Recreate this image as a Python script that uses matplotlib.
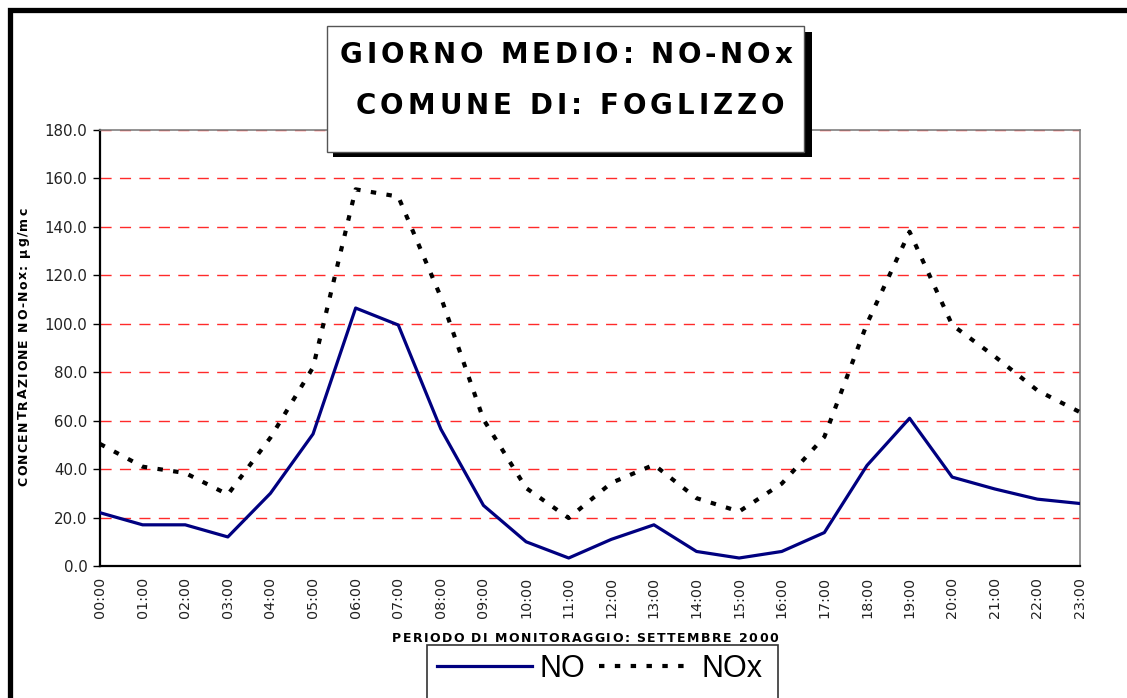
import matplotlib
matplotlib.use("Agg")
import matplotlib.pyplot as plt
from matplotlib.font_manager import FontProperties
from matplotlib.patches import Rectangle

# ---- data ----
hours = ["00:00", "01:00", "02:00", "03:00", "04:00", "05:00", "06:00", "07:00",
         "08:00", "09:00", "10:00", "11:00", "12:00", "13:00", "14:00", "15:00",
         "16:00", "17:00", "18:00", "19:00", "20:00", "21:00", "22:00", "23:00"]
no_values = [22, 17, 17, 12, 30, 54.5, 106.5, 99.5, 56.5, 25, 10, 3.3, 11, 17,
             6, 3.3, 6, 13.8, 41.5, 61, 36.7, 31.8, 27.6, 25.8]
nox_values = [50.4, 41, 38.4, 29.5, 53, 82, 155.5, 152.5, 111, 60.5, 32.2, 19.8,
              34.3, 41.8, 28, 22.5, 34, 53.3, 100, 138, 99.5, 86.5, 72.5, 63.5]
y_ticks = [0, 20, 40, 60, 80, 100, 120, 140, 160, 180]
title_lines = ["GIORNO MEDIO: NO-NOx", "COMUNE DI: FOGLIZZO"]
x_title = "PERIODO DI MONITORAGGIO: SETTEMBRE 2000"
y_title = "CONCENTRAZIONE NO-Nox: µg/mc"
series_names = ["NO", "NOx"]

W, H = 1127, 698
FONT = "Liberation Sans"
BOLDFONT = "DejaVu Sans"
TICKFONT = "DejaVu Sans"
fig = plt.figure(figsize=(W / 100, H / 100), dpi=100)
fig.patch.set_facecolor("white")


def fx(px):
    return px / W


def fy(py):
    return 1 - py / H


ax = fig.add_axes([fx(100), fy(566), fx(1080) - fx(100), fy(130) - fy(566)])
x = list(range(len(hours)))

for v in y_ticks[1:]:
    ax.axhline(v, color="#ff2a2a", lw=1.0, ls=(0, (8, 6)), zorder=1)

ax.plot(x, no_values, color="#000080", lw=2.3, zorder=3, label=series_names[0])
ax.plot(x, nox_values, color="black", lw=3.0, ls=(0, (1.3, 2.5)),
        dash_capstyle="butt", zorder=3, label=series_names[1])

ax.set_xlim(0, len(hours) - 1)
ax.set_ylim(0, 180)
ax.set_yticks(y_ticks)
ax.set_yticklabels([f"{v:.1f}" for v in y_ticks], fontfamily=TICKFONT, fontsize=10.8,
                   color="#222222")
ax.set_xticks(x)
ax.set_xticklabels(hours, rotation=90, fontfamily=TICKFONT, fontsize=10.3,
                   color="#222222")
ax.tick_params(axis="x", length=0, pad=8)
ax.tick_params(axis="y", length=5, width=1, pad=4, direction="out")
for s in ["left", "bottom"]:
    ax.spines[s].set_color("black")
    ax.spines[s].set_linewidth(1.6)
for s in ["top", "right"]:
    ax.spines[s].set_color("#808080")
    ax.spines[s].set_linewidth(1.2)

renderer = fig.canvas.get_renderer()


def advance(c, prop):
    w1, _, _ = renderer.get_text_width_height_descent("H" + c + "H", prop, ismath=False)
    w0, _, _ = renderer.get_text_width_height_descent("HH", prop, ismath=False)
    return w1 - w0


def spaced(s, cx, cy, width, size, weight="bold", rotation=0, z=3, family=BOLDFONT):
    prop = FontProperties(family=family, weight=weight, size=size)
    ws = [advance(c, prop) for c in s]
    track = (width - sum(ws)) / (len(s) - 1)
    pos = -width / 2
    for c, w in zip(s, ws):
        if rotation == 0:
            fig.text(fx(cx + pos), fy(cy), c, fontproperties=prop, ha="left",
                     va="baseline", color="black", zorder=z)
        else:
            fig.text(fx(cx), fy(cy - pos), c, fontproperties=prop, ha="left",
                     va="baseline", rotation=90, rotation_mode="anchor",
                     color="black", zorder=z)
        pos += w + track


# outer frame
fig.add_artist(Rectangle((fx(10), fy(760)), fx(1200), fy(10) - fy(760),
                         transform=fig.transFigure, fill=False, ec="black", lw=3.8,
                         clip_on=False))

# title box with shadow
fig.add_artist(Rectangle((fx(333), fy(157)), fx(812 - 333), fy(32) - fy(157),
                         transform=fig.transFigure, fc="black", ec="none", zorder=5))
fig.add_artist(Rectangle((fx(327), fy(152)), fx(804 - 327), fy(26) - fy(152),
                         transform=fig.transFigure, fc="white", ec="#555555", lw=1,
                         zorder=6))
spaced(title_lines[0], 566, 63, 452, 20, z=7)
spaced(title_lines[1], 570, 114, 429, 20, z=7)

spaced(x_title, 585, 642, 386, 9)
spaced(y_title, 27, 347, 278, 9, rotation=90)

# legend box
fig.add_artist(Rectangle((fx(427), fy(720)), fx(778 - 427), fy(645) - fy(720),
                         transform=fig.transFigure, fc="white", ec="#333333", lw=1.2,
                         clip_on=False))
handles, labels = ax.get_legend_handles_labels()
leg = fig.legend(handles, labels, loc="center left", bbox_to_anchor=(fx(437), fy(669)),
                 ncol=2, frameon=False, prop=FontProperties(family=FONT, size=22),
                 handlelength=3.1, handletextpad=0.25, columnspacing=0.45,
                 borderpad=0, borderaxespad=0)

fig.savefig("out.png", dpi=100)
